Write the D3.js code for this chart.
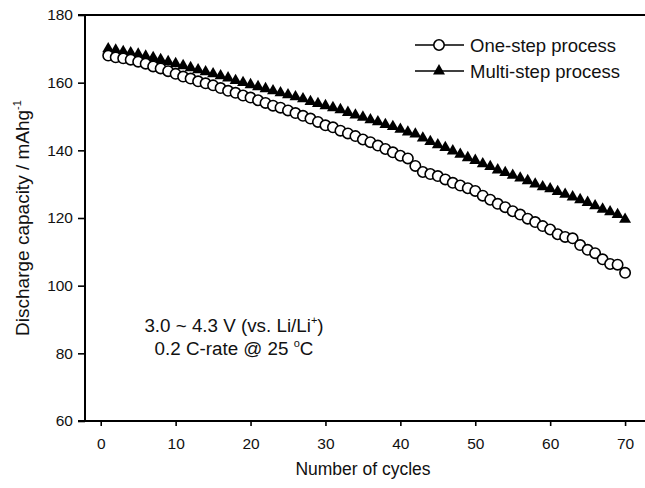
<!DOCTYPE html>
<html>
<head>
<meta charset="utf-8">
<script src="https://cdn.jsdelivr.net/npm/d3@7"></script>
<style>
  html, body { margin: 0; padding: 0; background: #fff; }
  svg { display: block; font-family: "Liberation Sans", Arial, sans-serif; }
</style>
</head>
<body>
<svg id="chart" width="645" height="488"></svg>
<script>
const cycles = d3.range(1, 71);
const oneStep = [
  168.0, 167.5, 167.2, 166.8, 166.2, 165.6, 164.8, 164.2, 163.4, 162.6,
  161.8, 161.2, 160.4, 159.8, 159.2, 158.4, 157.6, 157.0, 156.2, 155.6,
  154.8, 154.0, 153.2, 152.6, 151.8, 151.0, 150.2, 149.4, 148.4, 147.4,
  146.8, 145.8, 145.0, 144.2, 143.2, 142.4, 141.4, 140.4, 139.4, 138.4,
  137.6, 135.4, 133.6, 133.0, 132.4, 131.4, 130.4, 129.6, 128.8, 128.0,
  126.6, 125.4, 124.2, 123.2, 122.0, 121.0, 119.8, 118.8, 117.6, 116.6,
  115.2, 114.4, 114.0, 112.0, 110.6, 109.6, 107.8, 106.4, 106.2, 103.8
];
const multiStep = [
  170.0, 169.6, 169.2, 168.8, 168.4, 167.8, 167.4, 166.8, 166.2, 165.6,
  165.0, 164.4, 163.8, 163.2, 162.6, 162.0, 161.4, 160.6, 160.0, 159.4,
  158.8, 158.2, 157.6, 157.0, 156.4, 155.8, 155.2, 154.4, 153.8, 153.2,
  152.6, 152.0, 151.2, 150.4, 149.8, 149.0, 148.4, 147.6, 147.0, 146.2,
  145.4, 144.8, 143.6, 142.6, 141.6, 140.8, 139.8, 138.8, 137.8, 137.0,
  136.0, 135.2, 134.2, 133.4, 132.6, 131.8, 131.0, 130.0, 129.2, 128.6,
  127.8, 127.0, 126.2, 125.4, 124.6, 123.6, 122.6, 121.8, 121.0, 119.6
];
const xTicks = [0, 10, 20, 30, 40, 50, 60, 70];
const yTicks = [60, 80, 100, 120, 140, 160, 180];
const seriesNames = ["One-step process", "Multi-step process"];

const svg = d3.select("#chart");
const x = d3.scaleLinear().domain([-2.1, 72.66]).range([85, 645]);
const y = d3.scaleLinear().domain([60, 180]).range([421, 15]);
const FONT = "Liberation Sans, Arial, sans-serif";

// top frame line
svg.append("line")
  .attr("x1", 78).attr("x2", 645)
  .attr("y1", y(180)).attr("y2", y(180))
  .attr("stroke", "#000").attr("stroke-width", 2);

// y axis
const yAxis = svg.append("g")
  .attr("transform", "translate(85,0)")
  .call(d3.axisLeft(y).tickValues(yTicks).tickSize(7).tickPadding(5).tickFormat(d3.format("d")));
yAxis.select(".domain").attr("stroke-width", 2).attr("d", `M0,${y(180)}V${y(60)}`);
yAxis.selectAll(".tick line").attr("stroke-width", 1.6);
yAxis.selectAll("text").attr("font-size", 15.5).attr("fill", "#111").attr("font-family", FONT);

// x axis
const xAxis = svg.append("g")
  .attr("transform", `translate(0,${y(60)})`)
  .call(d3.axisBottom(x).tickValues(xTicks).tickSize(5).tickPadding(12).tickFormat(d3.format("d")));
xAxis.select(".domain").attr("stroke-width", 2).attr("d", `M78,0H645`);
xAxis.selectAll(".tick line").attr("stroke-width", 1.6);
xAxis.selectAll("text").attr("font-size", 15.5).attr("fill", "#111").attr("font-family", FONT);

// axis titles
svg.append("text")
  .attr("x", 363).attr("y", 475)
  .attr("text-anchor", "middle").attr("font-size", 17.5).attr("fill", "#111")
  .text("Number of cycles");

const yt = svg.append("text")
  .attr("transform", "translate(29,218) rotate(-90)")
  .attr("text-anchor", "middle").attr("font-size", 19).attr("fill", "#111");
yt.append("tspan").text("Discharge capacity / mAhg");
yt.append("tspan").attr("dy", -8).attr("font-size", 11).text("-1");

// series: triangles first, circles on top
const tri = d3.symbol().type(d3.symbolTriangle).size(62);
svg.append("g").selectAll("path")
  .data(cycles.map((c, i) => [c, multiStep[i]]))
  .join("path")
  .attr("d", tri)
  .attr("transform", d => `translate(${x(d[0])},${y(d[1])})`)
  .attr("fill", "#000");

svg.append("g").selectAll("circle")
  .data(cycles.map((c, i) => [c, oneStep[i]]))
  .join("circle")
  .attr("cx", d => x(d[0])).attr("cy", d => y(d[1]))
  .attr("r", 5.2)
  .attr("fill", "#fff").attr("stroke", "#000").attr("stroke-width", 1.6);

// legend
const lg = svg.append("g");
const rows = [
  { name: seriesNames[0], y: 45, type: "circle" },
  { name: seriesNames[1], y: 71, type: "triangle" }
];
rows.forEach(r => {
  lg.append("line").attr("x1", 415).attr("x2", 464).attr("y1", r.y).attr("y2", r.y)
    .attr("stroke", "#000").attr("stroke-width", 1.6);
  if (r.type === "circle") {
    lg.append("circle").attr("cx", 439).attr("cy", r.y).attr("r", 5.2)
      .attr("fill", "#fff").attr("stroke", "#000").attr("stroke-width", 1.6);
  } else {
    lg.append("path").attr("d", tri).attr("transform", `translate(439,${r.y})`).attr("fill", "#000");
  }
  lg.append("text").attr("x", 470).attr("y", r.y + 6.5)
    .attr("font-size", 18.5).attr("fill", "#111").text(r.name);
});

// annotation
const a1 = svg.append("text").attr("x", 234).attr("y", 332)
  .attr("text-anchor", "middle").attr("font-size", 18.8).attr("fill", "#111");
a1.append("tspan").text("3.0 ~ 4.3 V (vs. Li/Li");
a1.append("tspan").attr("dy", -8).attr("font-size", 11).text("+");
a1.append("tspan").attr("dy", 8).text(")");

const a2 = svg.append("text").attr("x", 234).attr("y", 355)
  .attr("text-anchor", "middle").attr("font-size", 18.8).attr("fill", "#111");
a2.append("tspan").text("0.2 C-rate @ 25 ");
a2.append("tspan").attr("dy", -8).attr("font-size", 11).text("o");
a2.append("tspan").attr("dy", 8).text("C");
</script>
</body>
</html>
